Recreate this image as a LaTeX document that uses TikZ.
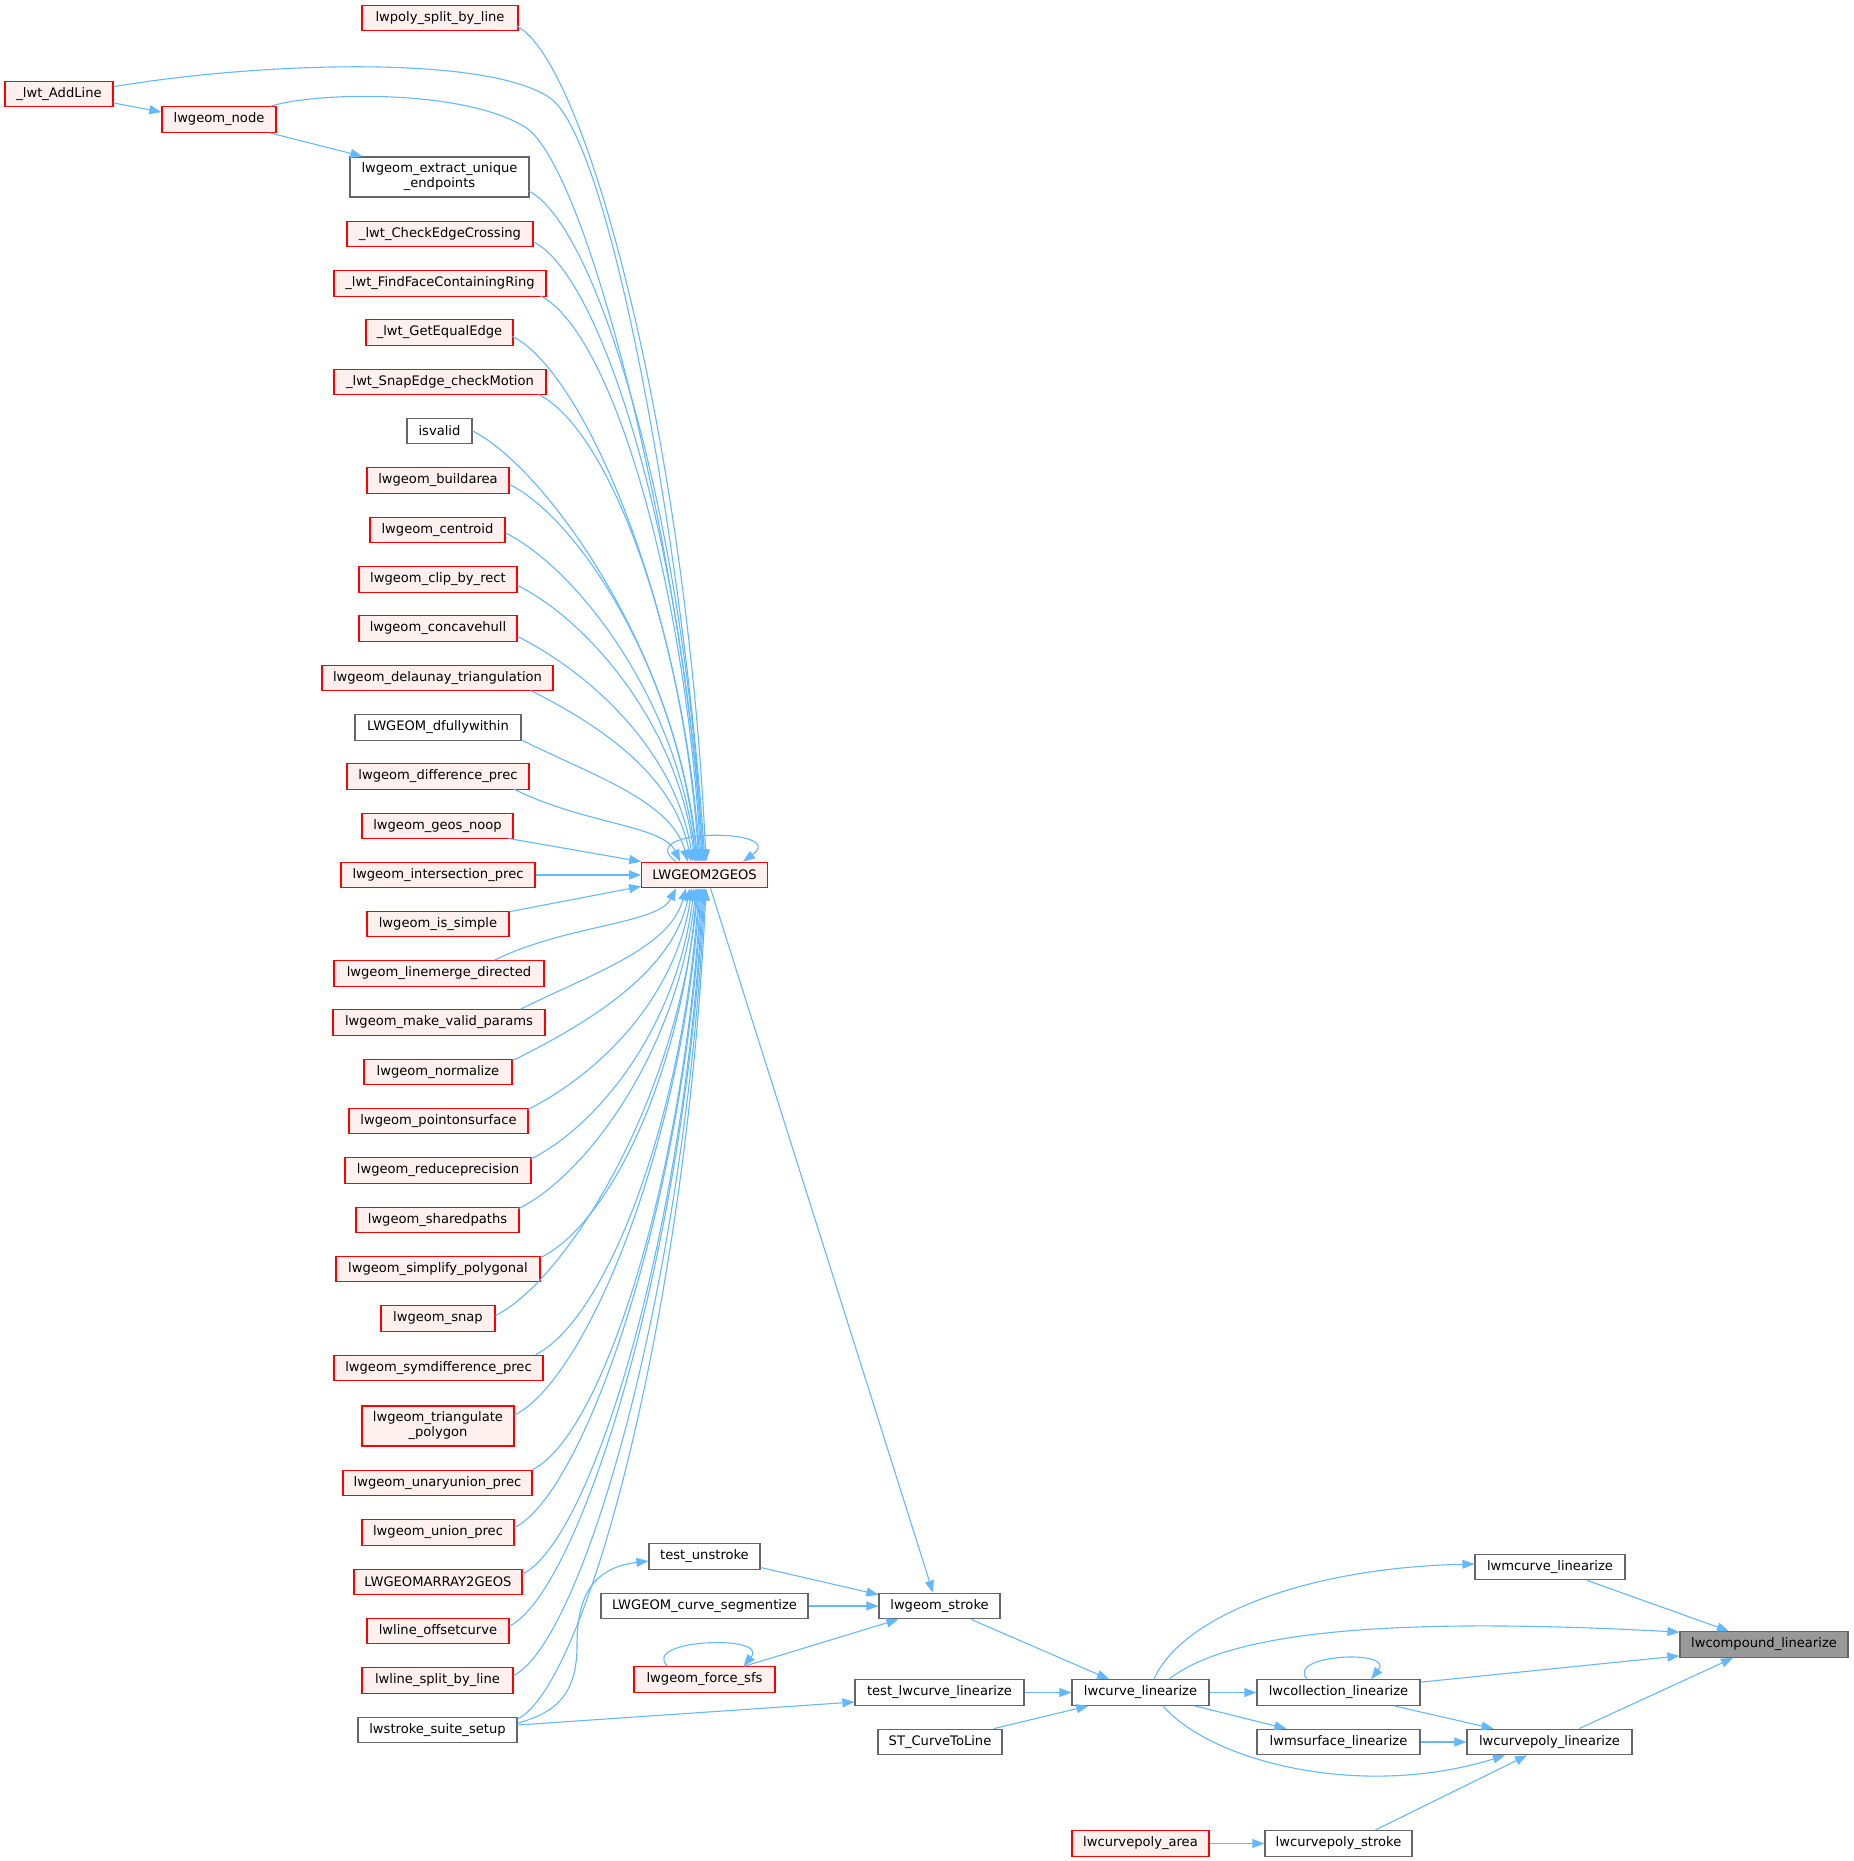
\documentclass[tikz,border=0pt]{standalone}
\usepackage{fontspec}
\setmainfont{DejaVu Sans}
\usetikzlibrary{arrows.meta,calc}
\definecolor{ered}{HTML}{FF0000}
\definecolor{pfill}{HTML}{FFF0F0}
\definecolor{gforty}{HTML}{666666}
\definecolor{gsixty}{HTML}{999999}
\definecolor{eblue}{HTML}{63B8FF}
\newcommand\upE[2]{\draw[cl] let \p1=#1, \p2=#2 in (\p1) .. controls ({\x1+35pt},{\y1-17.5pt}) and ({\x2-0.1*(\x2-\x1)},{\y2+0.5*(\y1-\y2)}) .. (\p2);}
\newcommand\dnE[2]{\draw[cl] let \p1=#1, \p2=#2 in (\p1) .. controls ({\x1+35pt},{\y1+17.5pt}) and ({\x2-0.1*(\x2-\x1)},{\y2+0.5*(\y1-\y2)}) .. (\p2);}
\begin{document}
\begin{tikzpicture}[x=0.5pt,y=-0.5pt,
 nb/.style={draw, line width=0.6pt, minimum height=12.75pt, inner xsep=1pt, inner ysep=0pt, font=\fontsize{6.55pt}{7.5pt}\selectfont, align=center},
 rn/.style={nb, draw=ered, fill=pfill},
 gn/.style={nb, draw=gforty, fill=white},
 rootn/.style={nb, draw=gforty, fill=gsixty},
 cl/.style={draw=eblue, line width=0.55pt, -{Triangle[length=6pt,width=4.5pt]}},
]
\useasboundingbox (0,0) rectangle (1853,1861);

% left column
\node[rn, minimum width=78pt] (n1) at (440,18) {lwpoly\_split\_by\_line};
\node[rn, minimum width=54pt] (addline) at (59,94) {\_lwt\_AddLine};
\node[rn, minimum width=57pt] (node) at (219,119.5) {lwgeom\_node};
\node[gn, minimum width=89.5pt, minimum height=20pt] (extract) at (439.5,177) {lwgeom\_extract\_unique\\\_endpoints};
\node[rn, minimum width=93pt] (check) at (440,234) {\_lwt\_CheckEdgeCrossing};
\node[rn, minimum width=106pt] (findface) at (440,283.5) {\_lwt\_FindFaceContainingRing};
\node[rn, minimum width=73.5pt] (getequal) at (439.5,332.5) {\_lwt\_GetEqualEdge};
\node[rn, minimum width=106pt] (snapedge) at (440,382) {\_lwt\_SnapEdge\_checkMotion};
\node[gn, minimum width=32.5pt] (isvalid) at (439.5,431) {isvalid};
\node[rn, minimum width=71pt] (buildarea) at (438,480.5) {lwgeom\_buildarea};
\node[rn, minimum width=67.5pt] (centroid) at (437.5,530) {lwgeom\_centroid};
\node[rn, minimum width=79pt] (clip) at (438,579.5) {lwgeom\_clip\_by\_rect};
\node[rn, minimum width=79pt] (concave) at (438,628.5) {lwgeom\_concavehull};
\node[rn, minimum width=115.5pt] (delaunay) at (437.5,678) {lwgeom\_delaunay\_triangulation};
\node[gn, minimum width=83pt] (dfully) at (438,727.5) {LWGEOM\_dfullywithin};
\node[rn, minimum width=91pt] (diff) at (438,776.5) {lwgeom\_difference\_prec};
\node[rn, minimum width=75.5pt] (noop) at (437.5,826) {lwgeom\_geos\_noop};
\node[rn, minimum width=97pt] (inter) at (438,875) {lwgeom\_intersection\_prec};
\node[rn, minimum width=71pt] (simple) at (438,924) {lwgeom\_is\_simple};
\node[rn, minimum width=105pt] (linemerge) at (439,973.5) {lwgeom\_linemerge\_directed};
\node[rn, minimum width=106pt] (makevalid) at (439,1022.5) {lwgeom\_make\_valid\_params};
\node[rn, minimum width=74pt] (normalize) at (438,1072) {lwgeom\_normalize};
\node[rn, minimum width=89.5pt] (pos) at (438.5,1121) {lwgeom\_pointonsurface};
\node[rn, minimum width=93pt] (reduce) at (438,1170.5) {lwgeom\_reduceprecision};
\node[rn, minimum width=81.5pt] (shared) at (437.5,1220) {lwgeom\_sharedpaths};
\node[rn, minimum width=102pt] (simplify) at (438,1269) {lwgeom\_simplify\_polygonal};
\node[rn, minimum width=57pt] (snap) at (438,1318.5) {lwgeom\_snap};
\node[rn, minimum width=104.5pt] (symdiff) at (438.5,1368) {lwgeom\_symdifference\_prec};
\node[rn, minimum width=76pt, minimum height=20pt] (triang) at (438,1426) {lwgeom\_triangulate\\\_polygon};
\node[rn, minimum width=94.5pt] (unary) at (437.5,1483) {lwgeom\_unaryunion\_prec};
\node[rn, minimum width=76pt] (union) at (438,1532.5) {lwgeom\_union\_prec};
\node[rn, minimum width=84pt] (array) at (438,1582) {LWGEOMARRAY2GEOS};
\node[rn, minimum width=71pt] (offset) at (438,1631) {lwline\_offsetcurve};
\node[rn, minimum width=75.5pt] (lsplit) at (437.5,1680.5) {lwline\_split\_by\_line};
\node[gn, minimum width=79.5pt] (suite) at (437.5,1730) {lwstroke\_suite\_setup};

% middle and right
\node[rn, minimum width=62.75pt] (l2g) at (704.5,875) {LWGEOM2GEOS};
\node[gn, minimum width=55.5pt] (unstroke) at (704.5,1556.5) {test\_unstroke};
\node[gn, minimum width=103.5pt] (segmentize) at (704.5,1606) {LWGEOM\_curve\_segmentize};
\node[rn, minimum width=70.5pt] (forcesfs) at (704.5,1679.5) {lwgeom\_force\_sfs};
\node[gn, minimum width=60.5pt] (stroke) at (939.5,1606) {lwgeom\_stroke};
\node[gn, minimum width=84.5pt] (testlw) at (939.5,1692.5) {test\_lwcurve\_linearize};
\node[gn, minimum width=62pt] (stcurve) at (940,1742) {ST\_CurveToLine};
\node[gn, minimum width=68.5pt] (lwcurve) at (1140.5,1692.5) {lwcurve\_linearize};
\node[rn, minimum width=68.5pt] (cparea) at (1140.5,1843.5) {lwcurvepoly\_area};
\node[gn, minimum width=81.5pt] (collection) at (1338.5,1692.5) {lwcollection\_linearize};
\node[gn, minimum width=81.5pt] (msurface) at (1338.5,1742) {lwmsurface\_linearize};
\node[gn, minimum width=73.5pt] (cpstroke) at (1338.5,1843.5) {lwcurvepoly\_stroke};
\node[gn, minimum width=75pt] (mcurve) at (1550,1567) {lwmcurve\_linearize};
\node[gn, minimum width=82.5pt] (cplin) at (1549.5,1742) {lwcurvepoly\_linearize};
\node[rootn, minimum width=84pt] (compound) at (1764,1644.5) {lwcompound\_linearize};

% edges into LWGEOM2GEOS from above
\draw[cl] ([shift={(0,6)}]addline.north east) .. controls +(150,-25) and (488,55) .. (550,98)
  .. controls (612,141) and ([shift={(-20,-300)}]l2g.north) .. ([shift={(0.5,0)}]l2g.north);
\draw[cl] ([shift={(-6,0)}]node.north east) .. controls +(50,-15) and (465,90) .. (525,127)
  .. controls (585,164) and ([shift={(-25,-330)}]l2g.north) .. ([shift={(-0.5,0)}]l2g.north);
\upE{([shift={(-2,8)}]n1.east)}{([shift={(1.5,0)}]l2g.north)}
\upE{([shift={(-1,14)}]extract.east)}{([shift={(-1.5,0)}]l2g.north)}
\upE{([shift={(0,8)}]check.east)}{([shift={(-2.5,0)}]l2g.north)}
\upE{([shift={(-6,12.5)}]findface.east)}{([shift={(-3.5,0)}]l2g.north)}
\upE{([shift={(-1,4)}]getequal.east)}{([shift={(-4.5,0)}]l2g.north)}
\upE{([shift={(-8,12.5)}]snapedge.east)}{([shift={(-5.5,0)}]l2g.north)}
\upE{(isvalid.east)}{([shift={(-6.5,0)}]l2g.north)}
\upE{([shift={(0,4)}]buildarea.east)}{([shift={(-7.5,0)}]l2g.north)}
\upE{([shift={(0,3)}]centroid.east)}{([shift={(-8.5,0)}]l2g.north)}
\upE{([shift={(0,6)}]clip.east)}{([shift={(-9.5,0)}]l2g.north)}
\upE{([shift={(0,8)}]concave.east)}{([shift={(-11.5,0)}]l2g.north)}
\upE{([shift={(-23,12.5)}]delaunay.east)}{([shift={(-13.5,0)}]l2g.north)}
\upE{([shift={(0,12.5)}]dfully.east)}{([shift={(-16.5,0)}]l2g.north)}
\upE{([shift={(-16,12.5)}]diff.east)}{([shift={(-24.5,0)}]l2g.north)}
\draw[cl] ([shift={(-5,12.5)}]noop.east) -- (l2g.north west);
\draw[cl] (inter.east) -- (l2g.west);
\draw[cl] ([shift={(0,1)}]simple.north east) -- ([shift={(0,-2)}]l2g.south west);
% edges into LWGEOM2GEOS from below
\dnE{([shift={(-50,0)}]linemerge.north east)}{([shift={(-28.5,0)}]l2g.south)}
\dnE{([shift={(-25,0)}]makevalid.north east)}{([shift={(-18.5,0)}]l2g.south)}
\dnE{([shift={(0,2)}]normalize.north east)}{([shift={(-14.5,0)}]l2g.south)}
\dnE{([shift={(-1,2)}]pos.north east)}{([shift={(-12.5,0)}]l2g.south)}
\dnE{([shift={(-1,2)}]reduce.north east)}{([shift={(-10.5,0)}]l2g.south)}
\dnE{([shift={(-1,2)}]shared.north east)}{([shift={(-8.5,0)}]l2g.south)}
\dnE{([shift={(0,2)}]simplify.north east)}{([shift={(-7.5,0)}]l2g.south)}
\dnE{([shift={(0,-3)}]snap.east)}{([shift={(-6.5,0)}]l2g.south)}
\dnE{([shift={(-8,0)}]symdiff.north east)}{([shift={(-5.5,0)}]l2g.south)}
\dnE{([shift={(0,-11)}]triang.east)}{([shift={(-4.5,0)}]l2g.south)}
\dnE{(unary.north east)}{([shift={(-3.5,0)}]l2g.south)}
\dnE{([shift={(0,-5)}]union.east)}{([shift={(-2.5,0)}]l2g.south)}
\dnE{([shift={(0,-8)}]array.east)}{([shift={(-1.5,0)}]l2g.south)}
\dnE{([shift={(0,-5)}]offset.east)}{([shift={(-0.5,0)}]l2g.south)}
\dnE{([shift={(0,-5)}]lsplit.east)}{([shift={(0.5,0)}]l2g.south)}
\dnE{([shift={(0,-11)}]suite.east)}{([shift={(1.5,0)}]l2g.south)}
% self loop
\draw[cl] ([shift={(-28.5,0)}]l2g.north) .. controls +(-46,-34) and +(47,-34) .. ([shift={(38.5,0)}]l2g.north);

% top-left small edges
\draw[cl] ([shift={(0,9)}]addline.east) -- ([shift={(0,-7.5)}]node.west);
\draw[cl] ([shift={(-7,0)}]node.south east) -- ([shift={(13,0)}]extract.north west);

% lower middle
\draw[cl] ([shift={(6,0)}]l2g.south) -- ([shift={(-6.5,0)}]stroke.north);
\draw[cl] ([shift={(0,-7)}]suite.east) .. controls (560,1712) and (577,1690) .. (577,1645)
  .. controls (577,1600) and (590,1568) .. ([shift={(0,4.5)}]unstroke.west);
\draw[cl] ([shift={(0,-5)}]suite.east) -- ([shift={(0,9.5)}]testlw.west);
\draw[cl] ([shift={(0,11)}]unstroke.east) -- ([shift={(0,2)}]stroke.north west);
\draw[cl] (segmentize.east) -- (stroke.west);
\draw[cl] ([shift={(40,0)}]forcesfs.north) -- ([shift={(20,0)}]stroke.south west);
\draw[cl] ([shift={(-37,0)}]forcesfs.north) .. controls +(-27.5,-27) and +(26.5,-32) .. ([shift={(39,0)}]forcesfs.north);
\draw[cl] ([shift={(31.5,0)}]stroke.south) -- ([shift={(-31.5,0)}]lwcurve.north);
\draw[cl] (testlw.east) -- (lwcurve.west);
\draw[cl] ([shift={(-9,0)}]stcurve.north east) -- ([shift={(17,0)}]lwcurve.south west);

% right part
\draw[cl] ([shift={(13.5,0)}]lwcurve.north) .. controls +(26,-60) and +(-175,4) .. ([shift={(0,-3)}]mcurve.west);
\draw[cl] ([shift={(28.5,0)}]lwcurve.north) .. controls +(51,-40) and +(-329,-18) .. ([shift={(0,1)}]compound.north west);
\draw[cl] (lwcurve.east) -- (collection.west);
\draw[cl] ([shift={(-15,0)}]lwcurve.south east) -- ([shift={(30,0)}]msurface.north west);
\draw[cl] ([shift={(22.5,0)}]lwcurve.south) .. controls +(47,55) and +(-145,45) .. ([shift={(-44.5,0)}]cplin.south);
\draw[cl] ([shift={(-31.5,0)}]collection.north) .. controls +(-22,-25) and +(24,-30) .. ([shift={(32.5,0)}]collection.north);
\draw[cl] ([shift={(0,3)}]collection.north east) -- ([shift={(0,-2)}]compound.south west);
\draw[cl] ([shift={(55.5,0)}]collection.south) -- ([shift={(27,0)}]cplin.north west);
\draw[cl] (msurface.east) -- (cplin.west);
\draw[cl] ([shift={(37,0)}]mcurve.south) -- ([shift={(-35,0)}]compound.north);
\draw[cl] ([shift={(29.5,0)}]cplin.north) -- ([shift={(-31,0)}]compound.south);
\draw[cl] ([shift={(36.5,0)}]cpstroke.north) -- ([shift={(-22.5,0)}]cplin.south);
\draw[cl] (cparea.east) -- (cpstroke.west);
\end{tikzpicture}
\end{document}
